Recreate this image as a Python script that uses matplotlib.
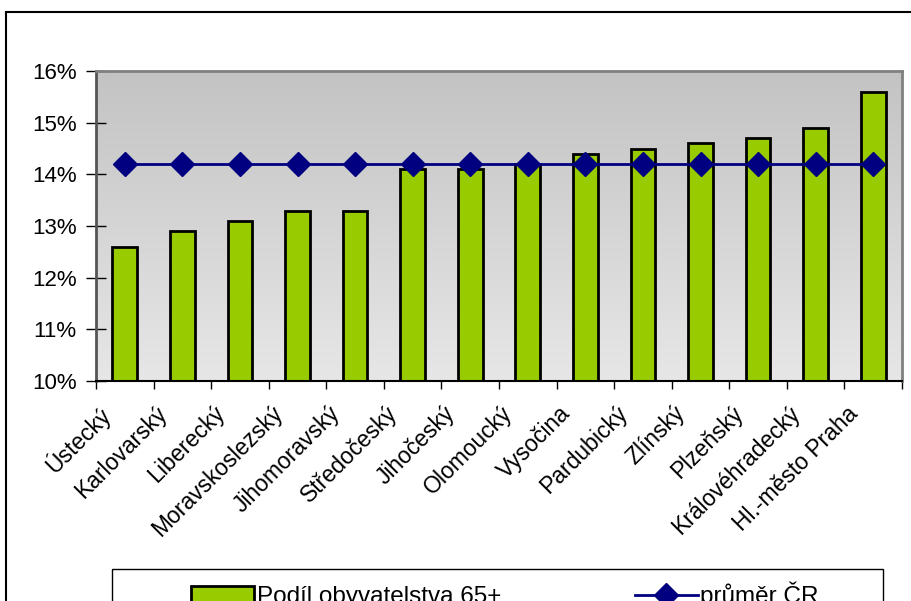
import numpy as np
import matplotlib
matplotlib.use("Agg")
import matplotlib.pyplot as plt
import matplotlib.transforms as mtransforms
from matplotlib.patches import Rectangle
from matplotlib.ticker import FuncFormatter, MultipleLocator

categories = ["Ústecký", "Karlovarský", "Liberecký", "Moravskoslezský", "Jihomoravský",
              "Středočeský", "Jihočeský", "Olomoucký", "Vysočina", "Pardubický",
              "Zlínský", "Plzeňský", "Královéhradecký", "Hl.-město Praha"]
share_65 = [12.6, 12.9, 13.1, 13.3, 13.3, 14.1, 14.1, 14.2, 14.4, 14.5, 14.6, 14.7, 14.9, 15.6]
avg_cr = [14.2] * 14
series_names = ["Podíl obyvatelstva 65+", "průměr ČR"]

plt.rcParams['font.family'] = ['Liberation Sans', 'DejaVu Sans']
W, H = 911, 601
fig = plt.figure(figsize=(W / 100, H / 100), dpi=100)
fig.patch.set_facecolor('white')

left, right, top, bottom = 96, 902, 71, 381
ax = fig.add_axes([left / W, 1 - bottom / H, (right - left) / W, (bottom - top) / H])

x = np.arange(len(categories))
ax.set_xlim(-0.5, len(categories) - 0.5)
ax.set_ylim(10, 16)

# gradient background (dark at top, light at bottom)
grad = np.linspace(0, 1, 256).reshape(-1, 1)
top_c = np.array([0.765, 0.765, 0.765])
bot_c = np.array([0.905, 0.905, 0.905])
img = top_c[None, None, :] * (1 - grad[:, :, None]) + bot_c[None, None, :] * grad[:, :, None]
ax.imshow(img, extent=[-0.5, len(categories) - 0.5, 10, 16], origin='upper',
          aspect='auto', zorder=0)

bars = ax.bar(x, share_65, width=0.43, bottom=0, color='#99CC00', edgecolor='black',
              linewidth=2, zorder=2)
line, = ax.plot(x, avg_cr, color='#000080', linewidth=2, marker='D', markersize=12,
                markeredgecolor='#000080', markerfacecolor='#000080', zorder=3)

ax.yaxis.set_major_locator(MultipleLocator(1))
ax.yaxis.set_major_formatter(FuncFormatter(lambda v, p: f"{v:.0f}%"))
ax.tick_params(axis='y', direction='inout', length=14, width=1, labelsize=16, pad=7)
ax.set_xticks(x)
ax.set_xticklabels(categories, rotation=45, ha='right', rotation_mode='anchor', fontsize=16.5)
ax.tick_params(axis='x', length=0, pad=15)
offset = mtransforms.ScaledTranslation(-0.27, 0, fig.dpi_scale_trans)
for lbl in ax.get_xticklabels():
    lbl.set_transform(lbl.get_transform() + offset)
ax.set_xticks(np.arange(-0.5, len(categories), 1), minor=True)
ax.tick_params(axis='x', which='minor', direction='out', length=6, width=1)

for s in ['top', 'right']:
    ax.spines[s].set_color('#808080')
    ax.spines[s].set_linewidth(2)
ax.spines['left'].set_color('#555555')
ax.spines['left'].set_linewidth(2)
ax.spines['bottom'].set_color('black')
ax.spines['bottom'].set_linewidth(1.5)

# outer frame
fig.patches.append(Rectangle((6 / W, -0.05), 1.05, 1 - 12 / H + 0.05, transform=fig.transFigure,
                             fill=False, edgecolor='black', linewidth=1.5, zorder=10))
# legend box
fig.patches.append(Rectangle((112 / W, -0.05), (883 - 112) / W, 1 - 569 / H + 0.05,
                             transform=fig.transFigure, fill=False, edgecolor='black',
                             linewidth=1, zorder=10))
fig.legend([bars, line], series_names, ncol=2, loc='upper left',
           bbox_to_anchor=(179 / W, 1 - 569 / H), frameon=False, fontsize=17.5,
           borderpad=0, handlelength=2.6, handleheight=0.6, handletextpad=0.1,
           columnspacing=5.5, numpoints=1)

fig.savefig('out.png', dpi=100, facecolor='white')
